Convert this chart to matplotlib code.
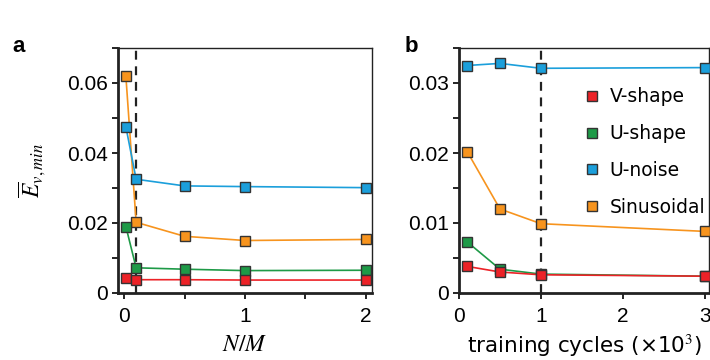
import matplotlib.pyplot as plt
from matplotlib.ticker import MultipleLocator

plt.rcParams['font.family'] = ['Liberation Sans', 'DejaVu Sans']
plt.rcParams['mathtext.fontset'] = 'stix'

# panel a: error vs N/M
nm = [0.015, 0.1, 0.5, 1, 2]
a_vshape = [0.0042, 0.0038, 0.0038, 0.0037, 0.0037]
a_ushape = [0.0190, 0.0072, 0.0068, 0.0064, 0.0065]
a_unoise = [0.0475, 0.0325, 0.0306, 0.0304, 0.0301]
a_sinus = [0.0620, 0.0202, 0.0162, 0.0150, 0.0153]

# panel b: error vs training cycles (x10^3)
cycles = [0.1, 0.5, 1, 3]
b_vshape = [0.0038, 0.0030, 0.0026, 0.0024]
b_ushape = [0.0073, 0.0034, 0.0027, 0.0024]
b_unoise = [0.0325, 0.0328, 0.0321, 0.0322]
b_sinus = [0.0202, 0.0120, 0.0099, 0.0088]

labels = ["V-shape", "U-shape", "U-noise", "Sinusoidal"]
colors = ["#ec2227", "#1e9a47", "#1b9fdb", "#f7941e"]

fig = plt.figure(figsize=(7.1, 3.6), dpi=100)
ax1 = fig.add_axes([118 / 710, 1 - 293 / 360, 254 / 710, 245 / 360])
ax2 = fig.add_axes([459 / 710, 1 - 293 / 360, 250 / 710, 245 / 360])


def draw(ax, x, series, legend=False):
    # draw upper curves first so red ends up on top
    order = [3, 2, 1, 0]
    for i in order:
        ax.plot(x, series[i], color=colors[i], lw=1.2, zorder=2)
        ax.plot(x, series[i], ls="none", marker="s", ms=7, mfc=colors[i],
                mec="#333333", mew=1.0, zorder=3 + (3 - i), clip_on=False)
    if legend:
        handles = [plt.Line2D([], [], ls="none", marker="s", ms=7, mfc=c,
                              mec="#333333", mew=1.0) for c in colors]
        ax.legend(handles, labels, loc="upper right", bbox_to_anchor=(1.03, 0.885),
                  frameon=False, prop={"family": "DejaVu Sans", "size": 13.5},
                  handletextpad=0.35, labelspacing=0.95, handlelength=1.2,
                  borderaxespad=0.2)


def style(ax):
    for side in ["left", "bottom"]:
        ax.spines[side].set_linewidth(2.0)
        ax.spines[side].set_color("#222222")
    for side in ["top", "right"]:
        ax.spines[side].set_linewidth(1.0)
        ax.spines[side].set_color("#222222")
    ax.tick_params(which="both", direction="out", length=4, width=1.2,
                   labelsize=15, top=False, right=False)
    ax.tick_params(axis="x", pad=6)
    ax.tick_params(axis="y", pad=3)


draw(ax1, nm, [a_vshape, a_ushape, a_unoise, a_sinus])
ax1.axvline(0.1, color="#222222", ls=(0, (4, 3)), lw=1.6, zorder=1)
ax1.set_xlim(-0.05, 2.05)
ax1.set_ylim(0, 0.07)
ax1.xaxis.set_minor_locator(MultipleLocator(0.5))
ax1.yaxis.set_minor_locator(MultipleLocator(0.01))
ax1.set_yticks([0, 0.02, 0.04, 0.06])
ax1.set_yticklabels(["0", "0.02", "0.04", "0.06"])
ax1.set_xticks([0, 1, 2])
ax1.set_xticklabels(["0", "1", "2"])
ax1.set_xlabel(r"$N/M$", fontsize=17, labelpad=6)
ax1.set_ylabel(r"$\overline{E}_{v,min}$", fontsize=17, labelpad=14)
style(ax1)

draw(ax2, cycles, [b_vshape, b_ushape, b_unoise, b_sinus], legend=True)
ax2.axvline(1, color="#222222", ls=(0, (4, 3)), lw=1.6, zorder=1)
ax2.set_xlim(0, 3.05)
ax2.set_ylim(0, 0.035)
ax2.yaxis.set_minor_locator(MultipleLocator(0.005))
ax2.set_yticks([0, 0.01, 0.02, 0.03])
ax2.set_yticklabels(["0", "0.01", "0.02", "0.03"])
ax2.set_xticks([0, 1, 2, 3])
ax2.set_xticklabels(["0", "1", "2", "3"])
ax2.set_xlabel(r"training cycles (×10$^3$)", family="DejaVu Sans",
               fontsize=15.5, labelpad=5)
style(ax2)

fig.text(12 / 710, 1 - 47 / 360, "a", fontsize=16, fontweight="bold", va="center")
fig.text(405 / 710, 1 - 47 / 360, "b", fontsize=16, fontweight="bold", va="center")

fig.savefig("out.png", dpi=100)
